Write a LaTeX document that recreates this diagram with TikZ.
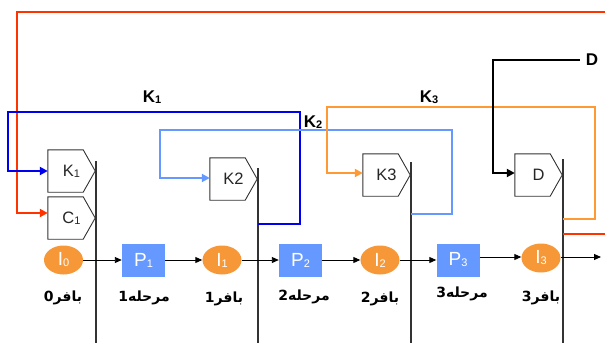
\documentclass[tikz,border=0pt]{standalone}
\usepackage{fontspec}
\setmainfont{Liberation Sans}
\newfontfamily\arabicfont[Script=Arabic]{DejaVu Sans}
\TeXXeTstate=1
\usetikzlibrary{arrows.meta,shapes.geometric}
\definecolor{myred}{RGB}{255,51,0}
\definecolor{myblue}{RGB}{0,0,240}
\definecolor{mylblue}{RGB}{102,153,255}
\definecolor{myorange}{RGB}{255,153,51}
\definecolor{ellfill}{RGB}{247,152,56}
\definecolor{boxfill}{RGB}{102,153,255}
\newcommand{\subd}[1]{\raisebox{-0.1ex}{\fontsize{11}{11}\selectfont #1}}
\newcommand{\subl}[1]{\raisebox{-0.1ex}{\fontsize{11}{11}\selectfont #1}}
\begin{document}
\begin{tikzpicture}[x=1pt,y=-1pt,
  reg/.style={minimum width=47pt,minimum height=42pt,inner sep=0pt,font=\fontsize{16.5}{16.5}\selectfont,text=black!85},
  regline/.style={draw=black!80,line width=0.9pt},
  bar/.style={draw=black!80,line width=1.4pt},
  fb/.style={line width=2.6pt},
  fbarrow/.style={line width=2.6pt,-{Triangle[length=8pt,width=8pt]}},
  buf/.style={ellipse,fill=ellfill,minimum width=39pt,minimum height=29pt,inner sep=0pt,text=white,font=\fontsize{19}{19}\selectfont},
  stg/.style={rectangle,fill=boxfill,minimum width=43pt,minimum height=33pt,inner sep=0pt,text=white,font=\fontsize{19}{19}\selectfont},
  flow/.style={line width=0.9pt,-{Triangle[length=7pt,width=6pt]}},
  klab/.style={font=\bfseries\fontsize{17}{17}\selectfont,inner sep=0pt},
  plab/.style={font=\arabicfont\bfseries\fontsize{14}{14}\selectfont,inner sep=0pt}
]
\useasboundingbox (0,0) rectangle (605,343);

% registers
\node[reg] (k1) at (71.5,171) {K\subd{1}};
\node[reg] (c1) at (71.5,218) {C\subd{1}};
\node[reg] (k2) at (233.5,179) {K2};
\node[reg] (k3) at (386.5,175) {K3};
\node[reg] (d)  at (538.5,175) {D};
\foreach \n in {k1,c1,k2,k3,d}{
  \draw[regline] (\n.north west) -- ([xshift=-12pt]\n.north east) -- (\n.east) -- ([xshift=-12pt]\n.south east) -- (\n.south west) -- cycle;
}

% stage bars
\coordinate (b1t) at (96,161);  \coordinate (b1b) at (96,343);
\coordinate (b2t) at (258,168); \coordinate (b2b) at (258,343);
\coordinate (b3t) at (411,162); \coordinate (b3b) at (411,343);
\coordinate (b4t) at (563,159); \coordinate (b4b) at (563,343);
\draw[bar] (b1t) -- (b1b);
\draw[bar] (b2t) -- (b2b);
\draw[bar] (b3t) -- (b3b);
\draw[bar] (b4t) -- (b4b);

% red loop
\coordinate (redin) at (605,12);
\coordinate (redout) at (563,234);
\coordinate (redend) at (605,234);
\draw[fbarrow,myred] (redin) -- (17,12) -- (17,213) -- ([yshift=5pt]c1.west);
\draw[fb,myred] (redout) -- (redend);

% K1 loop
\coordinate (k1o) at (258,224);
\draw[fbarrow,myblue] (k1o) -- (300,224) -- (300,112) -- (8,112) -- (8,171) -- (k1.west);
\node[klab] (lk1) at (152,97) {K\subl{1}};

% K2 loop
\coordinate (k2o) at (411,214);
\draw[fbarrow,mylblue] (k2o) -- (452,214) -- (452,130) -- (160,130) -- (160,178) -- ([yshift=1pt]k2.west);
\node[klab] (lk2) at (313,122) {K\subl{2}};

% K3 loop
\coordinate (k3o) at (563,219);
\draw[fbarrow,myorange] (k3o) -- (595,219) -- (595,107) -- (327,107) -- (327,173) -- ([yshift=2pt]k3.west);
\node[klab] (lk3) at (429,97) {K\subl{3}};

% D input
\node[klab] (dl) at (592,60) {D};
\coordinate (din) at (580,60);
\draw[fbarrow,black] (din) -- (493,60) -- (493,173) -- ([yshift=2pt]d.west);

% pipeline
\node[buf] (i0) at (63.5,260) {I\subd{0}};
\node[stg] (p1) at (143.5,260) {P\subd{1}};
\node[buf] (i1) at (222,260) {I\subd{1}};
\node[stg] (p2) at (300.5,260) {P\subd{2}};
\node[buf] (i2) at (380,260) {I\subd{2}};
\node[stg] (p3) at (458,260) {P\subd{3}};
\node[buf] (i3) at (541,258) {I\subd{3}};
\coordinate (out) at (601,257);
\draw[flow] (i0) -- (p1);
\draw[flow] (p1) -- (i1);
\draw[flow] (i1) -- (p2);
\draw[flow] (p2) -- (i2);
\draw[flow] (i2) -- (p3);
\draw[flow] ([yshift=3pt]p3.east) -- ([yshift=1pt]i3.west);
\draw[flow] ([yshift=1pt]i3.east) -- (out);

% labels
\node[plab] (l0) at (63,298) {\beginR بافر0\endR};
\node[plab] (l1) at (144,298) {\beginR مرحله1\endR};
\node[plab] (l2) at (224,299) {\beginR بافر1\endR};
\node[plab] (l3) at (304,297) {\beginR مرحله2\endR};
\node[plab] (l4) at (380,299) {\beginR بافر2\endR};
\node[plab] (l5) at (462,294) {\beginR مرحله3\endR};
\node[plab] (l6) at (541,298) {\beginR بافر3\endR};
\end{tikzpicture}
\end{document}
